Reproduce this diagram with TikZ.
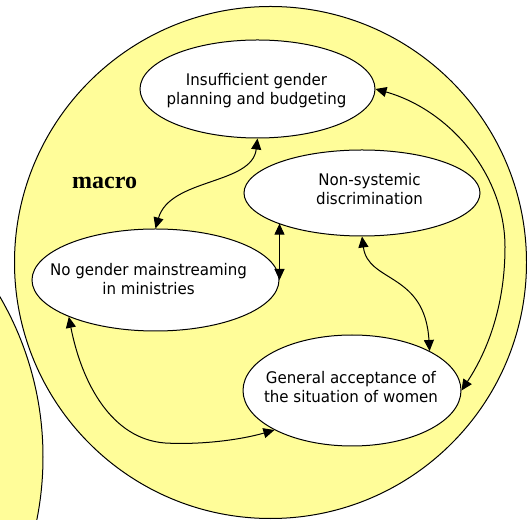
\documentclass[tikz,border=0pt]{standalone}
\usepackage{fontspec}
\newfontfamily\labelfont[FakeStretch=0.94]{DejaVu Sans}
\newfontfamily\tagfont{Liberation Serif}
\usetikzlibrary{arrows.meta,shapes.geometric}
\definecolor{zone}{HTML}{FFFD99}

\begin{document}
\begin{tikzpicture}[x=1pt,y=1pt,
  zonecircle/.style={draw=black, line width=1pt, fill=zone},
  issue/.style={ellipse, draw=black, line width=1pt, fill=white, inner sep=0pt},
  issuetext/.style={align=center, inner sep=0pt, text=black,
    font=\labelfont\fontsize{16}{19}\selectfont},
  link/.style={line width=1pt,
    {Triangle[length=11pt,width=10pt]}-{Triangle[length=11pt,width=10pt]}}
]
\useasboundingbox (0,0) rectangle (527,519);
\begin{scope}
  \clip (0,0) rectangle (527,519);
  % neighbouring level, mostly off to the left
  \draw[zonecircle] (-276,62) circle[radius=319];
  % macro level
  \draw[zonecircle] (270.5,256.5) circle[radius=256];
\end{scope}

\node[anchor=base west, inner sep=0pt,
      font=\tagfont\bfseries\fontsize{24}{28}\selectfont] (macro) at (72,330) {macro};

% the four problem areas
\node[issue, minimum width=235pt, minimum height=98pt]  (plan)     at (257.5,430)  {};
\node[issue, minimum width=236pt, minimum height=86pt]  (nosys)    at (362,326)    {};
\node[issue, minimum width=247pt, minimum height=102pt] (nogender) at (155.5,239)  {};
\node[issue, minimum width=218pt, minimum height=111pt] (accept)   at (352,128.5)  {};

\node[issuetext] (plan-text)     at (256.5,428.9) {Insufficient gender\\planning and budgeting};
\node[issuetext] (nosys-text)    at (369.5,329.6) {Non-systemic\\discrimination};
\node[issuetext] (nogender-text) at (148.5,239.6) {No gender mainstreaming\\in ministries};
\node[issuetext] (accept-text)   at (351,131.6)   {General acceptance of\\the situation of women};

% mutual influences
\draw[link] (plan.south) .. controls (252,334) and (170,341) .. (nogender.north);
\draw[link] (nogender.east |- nosys.200) -- (nogender.east);
\draw[link] (nosys.south) .. controls (368,236) and (425,247) .. (accept.27);
\coordinate (rightbend) at (505,272);
\draw[link] (plan.east) .. controls (450,409) and (505,344) .. (rightbend)
            .. controls (505,209) and (485,164) .. (accept.east);
\coordinate (lowbend) at (165,76);
\draw[link] (nogender.203) .. controls (82,135) and (112,80) .. (lowbend)
            .. controls (200,74) and (240,79) .. (accept.207);
\end{tikzpicture}
\end{document}
